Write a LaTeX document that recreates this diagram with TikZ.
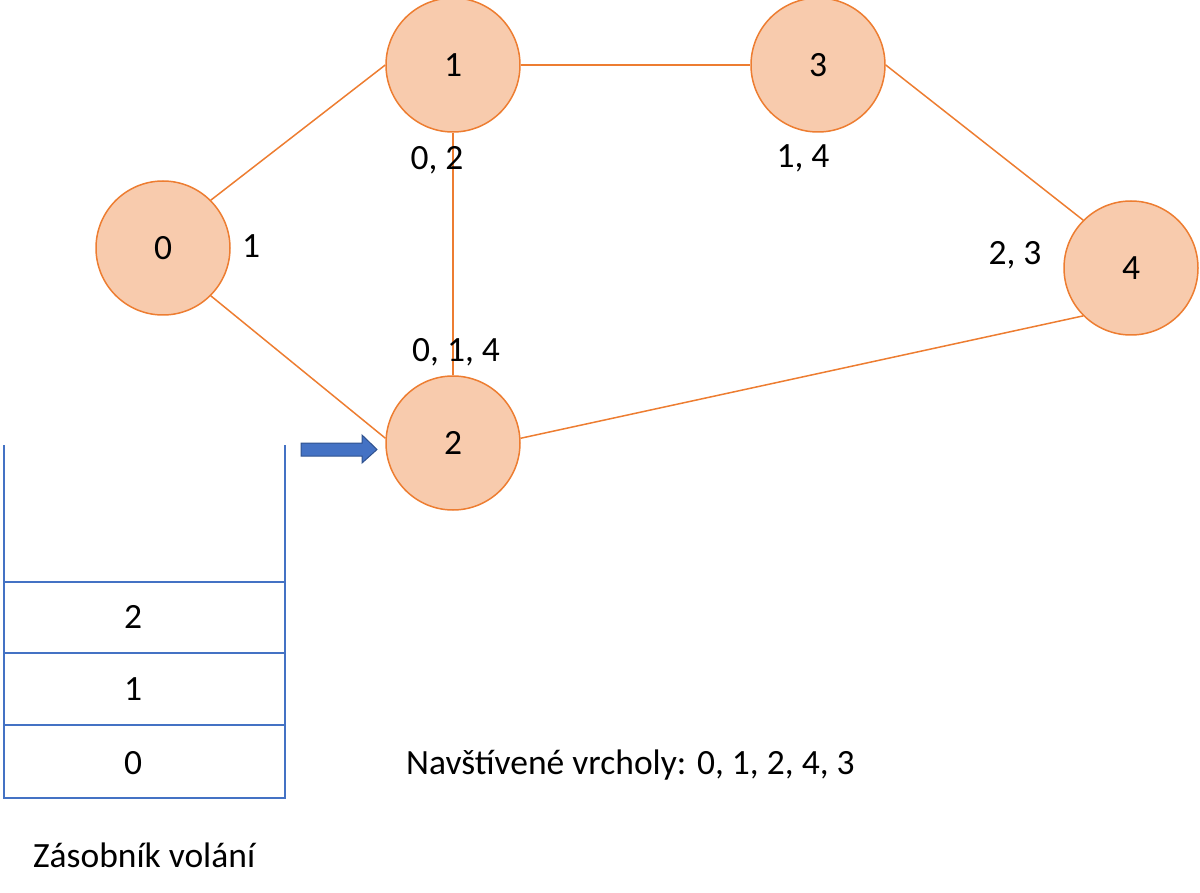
\documentclass[tikz,border=0pt]{standalone}
\usepackage{fontspec}
\setmainfont{Carlito}
\definecolor{nfill}{HTML}{F8CBAD}
\definecolor{nline}{HTML}{ED7D31}
\definecolor{sblue}{HTML}{4472C4}
\definecolor{sdark}{HTML}{2F528F}
\begin{document}
\begin{tikzpicture}[x=1pt,y=-1pt,
  vertex/.style={circle,draw=nline,fill=nfill,line width=1.5pt,minimum size=134pt,inner sep=0pt,font=\fontsize{35.5}{42}\selectfont},
  edge/.style={draw=nline,line width=1.5pt},
  lbl/.style={inner sep=0pt,font=\fontsize{35.5}{42}\selectfont},
  pointer/.style={draw=sdark,fill=sblue,line width=1pt,line join=miter},
  stackline/.style={draw=sblue,line width=2pt}]
\useasboundingbox (0,0) rectangle (1200,893);
\node[vertex] (v0) at (163,248) {0};
\node[vertex] (v1) at (453,65) {1};
\node[vertex] (v3) at (818,65) {3};
\node[vertex] (v4) at (1131,268) {4};
\node[vertex] (v2) at (453,443) {2};
\draw[edge] (v0.45) -- (v1.west);
\draw[edge] (v0.-45) -- (v2.176);
\draw[edge] (v1.east) -- (v3.west);
\draw[edge] (v1.south) -- (v2.north);
\draw[edge] (v3.east) -- (v4.135);
\draw[edge] (v2.4) -- (v4.225);
\node[lbl] (l0) at (251,246) {1};
\node[lbl] (l1) at (437,160) {0, 2};
\node[lbl] (l3) at (803,158) {1, 4};
\node[lbl] (l4) at (1015,255) {2, 3};
\node[lbl] (l2) at (456,352) {0, 1, 4};
\draw[pointer] (301,443) -- (362,443) -- (362,435) -- (377,449.5) -- (362,463) -- (362,456) -- (301,456) -- cycle;
\coordinate (tl) at (4,445);
\coordinate (tr) at (285,445);
\coordinate (bl) at (4,798);
\coordinate (br) at (285,798);
\draw[stackline] (tl) -- (bl) -- (br) -- (tr);
\draw[stackline] (4,582) -- (285,582);
\draw[stackline] (4,653) -- (285,653);
\draw[stackline] (4,725) -- (285,725);
\node[lbl] (s2) at (133,617) {2};
\node[lbl] (s1) at (133,689) {1};
\node[lbl] (s0) at (133,763) {0};
\node[lbl,anchor=west] (vis) at (406,765) {Navštívené vrcholy: 0, 1, 2, 4, 3};
\node[lbl,anchor=west] (zas) at (33,855) {Zásobník volání};
\end{tikzpicture}
\end{document}
